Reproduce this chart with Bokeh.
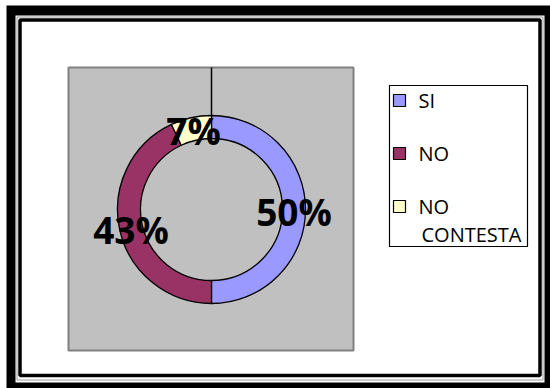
import math
from bokeh.plotting import figure
from bokeh.models import Range1d, ColumnDataSource
from bokeh.core.properties import value
from bokeh.embed import file_html
from bokeh.resources import INLINE

# ---- data ----
categories = ["SI", "NO", "NO CONTESTA"]
values = [50, 43, 7]
colors = ["#9999FF", "#993366", "#FFFFCC"]

W, H = 550, 388
p = figure(width=W, height=H, x_range=Range1d(0, W), y_range=Range1d(0, H),
           output_backend="svg", toolbar_location=None, min_border=0)
p.axis.visible = False
p.grid.visible = False
p.outline_line_color = None
p.background_fill_color = "white"
p.border_fill_color = "white"


def Y(y):
    return H - y


# ---- decorative double frame ----
p.quad(left=6, right=550, top=Y(5), bottom=Y(388), fill_color="black", line_color=None)
p.quad(left=15, right=544, top=Y(15), bottom=Y(382), fill_color="white", line_color=None)
p.quad(left=16.5, right=542.5, top=Y(16.5), bottom=Y(379.5), fill_color=None,
       line_color="#9a9a9a", line_width=1)
p.quad(left=19.5, right=539.5, top=Y(19.5), bottom=Y(375), fill_color="white",
       line_color="black", line_width=3.5)

# ---- plot area ----
p.quad(left=68, right=353, top=Y(67), bottom=Y(350), fill_color="#C0C0C0",
       line_color="#808080", line_width=2)

# ---- doughnut ----
cx, cy = 211, 209
r_in, r_out = 71, 94
total = float(sum(values))
starts, ends, mids = [], [], []
a = math.pi / 2
for v in values:
    s = a
    e = a - 2 * math.pi * v / total
    starts.append(s)
    ends.append(e)
    mids.append((s + e) / 2)
    a = e

src = ColumnDataSource(dict(start=starts, end=ends, color=colors, cat=categories))
p.annular_wedge(x=cx, y=Y(cy), inner_radius=r_in, outer_radius=r_out,
                start_angle="start", end_angle="end", direction="clock",
                fill_color="color", line_color="black", line_width=1.3, source=src)

# leader line from top of plot area down to ring
p.segment(x0=cx, y0=Y(67), x1=cx, y1=Y(cy) + r_out, line_color="black", line_width=1.5)

# ---- data labels ----
r_mid = (r_in + r_out) / 2
lab_x = [cx + r_mid * math.cos(m) for m in mids]
lab_y = [Y(cy) + r_mid * math.sin(m) - 2 for m in mids]
lab_t = ["%d%%" % round(100 * v / total) for v in values]
p.text(x=lab_x, y=lab_y, text=lab_t, text_font=value("Open Sans"),
       text_font_style="bold", text_font_size="37px", text_color="black",
       text_align="center", text_baseline="middle")

# ---- legend ----
lx0, lx1, ly0, ly1 = 389, 527, 85, 246
p.quad(left=lx0, right=lx1, top=Y(ly0), bottom=Y(ly1), fill_color="white",
       line_color="black", line_width=1.2)
item_y0, item_step, line_step = 100, 53, 28
sq_x, txt_x = 399, 418
for i, (cat, col) in enumerate(zip(categories, colors)):
    yy = item_y0 + i * item_step
    p.rect(x=sq_x, y=Y(yy), width=12, height=12, fill_color=col,
           line_color="black", line_width=1.2)
    lines = cat.split(" ") if len(cat) > 8 else [cat]
    for j, ln in enumerate(lines):
        p.text(x=[txt_x + (3 if j else 0)], y=[Y(yy + j * line_step)], text=[ln],
               text_font=value("Open Sans"), text_font_size="20px",
               text_color="black", text_align="left", text_baseline="middle")

open("out.html", "w").write(file_html(p, INLINE))
